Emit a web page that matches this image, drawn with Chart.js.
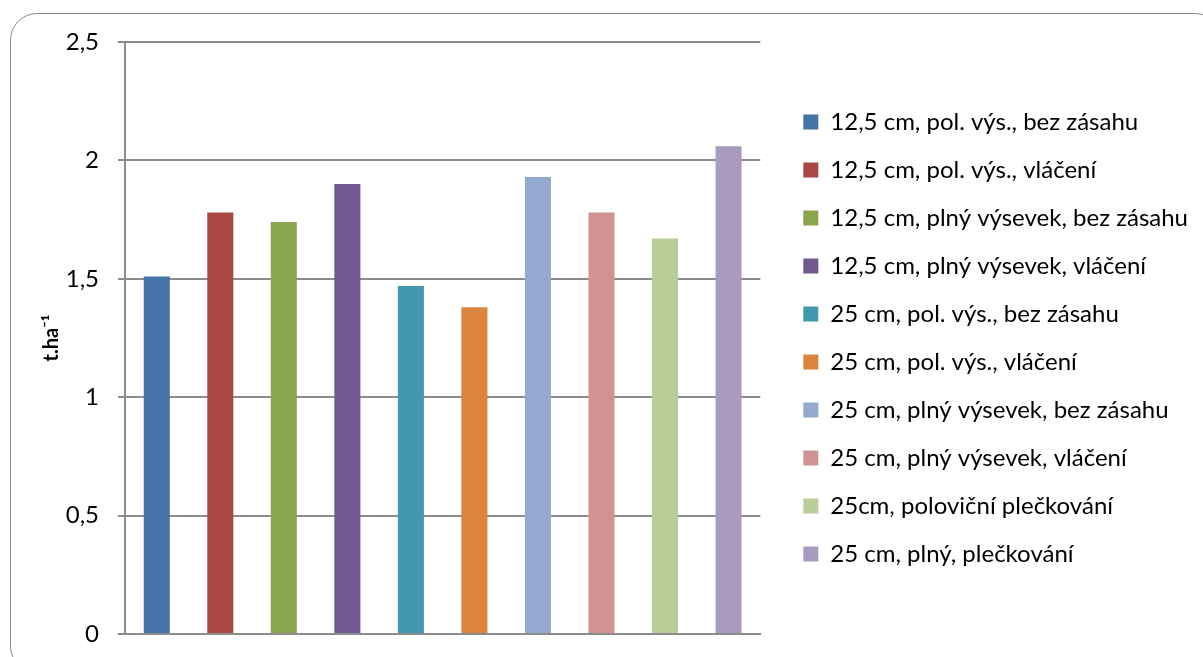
<!DOCTYPE html>
<html>
<head>
<meta charset="utf-8">
<script src="https://cdn.jsdelivr.net/npm/chart.js@4.4.0/dist/chart.umd.min.js"></script>
<style>
  html, body { margin: 0; padding: 0; background: #fff; overflow: hidden; }
  #wrap { position: relative; width: 1203px; height: 657px; }
  #frame {
    position: absolute; left: 10px; top: 13px; width: 1212px; height: 660px;
    border: 1.5px solid #8a8a8a; border-radius: 27px; box-sizing: border-box;
  }
  canvas { position: absolute; left: 0; top: 0; }
</style>
</head>
<body>
<div id="wrap">
  <div id="frame"></div>
  <canvas id="yieldChart" width="1203" height="657"></canvas>
</div>
<script>
// one category, ten variants
const categories = [""];
const seriesNames = [
    "12,5 cm, pol. výs., bez zásahu",
    "12,5 cm, pol. výs., vláčení",
    "12,5 cm, plný výsevek, bez zásahu",
    "12,5 cm, plný výsevek, vláčení",
    "25 cm, pol. výs., bez zásahu",
    "25 cm, pol. výs., vláčení",
    "25 cm, plný výsevek, bez zásahu",
    "25 cm, plný výsevek, vláčení",
    "25cm, poloviční plečkování",
    "25 cm, plný, plečkování"
];
const seriesValues = [1.51, 1.78, 1.74, 1.90, 1.47, 1.38, 1.93, 1.78, 1.67, 2.06];
const seriesColors = [
    "#4572A7", "#AA4643", "#89A54E", "#71588F", "#4198AF",
    "#DB843D", "#93A9CF", "#D19392", "#B9CD96", "#A99BBD"
];
const yTicks = [0, 0.5, 1, 1.5, 2, 2.5];
const yTitle = "t.ha⁻¹";

const gridColor = "#8c8c8c";
const font = "Lato, 'Liberation Sans', sans-serif";

const ctx = document.getElementById("yieldChart").getContext("2d");
new Chart(ctx, {
    type: "bar",
    data: {
        labels: categories,
        datasets: seriesNames.map((name, i) => ({
            label: name,
            data: [seriesValues[i]],
            backgroundColor: seriesColors[i],
            borderWidth: 0,
            categoryPercentage: 1,
            barPercentage: 0.41,
        })),
    },
    options: {
        responsive: false,
        animation: false,
        layout: { padding: { left: 36, top: 42, right: 5, bottom: 23 } },
        plugins: {
            tooltip: { enabled: false },
            legend: {
                display: true,
                position: "right",
                align: "center",
                maxWidth: 500,
                labels: {
                    boxWidth: 15,
                    boxHeight: 15,
                    padding: 24,
                    color: "#000",
                    font: { family: font, size: 24 },
                },
            },
        },
        scales: {
            x: {
                ticks: { display: false },
                grid: { display: false },
                border: { display: true, color: gridColor, width: 2 },
                afterFit: s => { s.height = 0; },
            },
            y: {
                min: yTicks[0],
                max: yTicks[yTicks.length - 1],
                afterBuildTicks: axis => { axis.ticks = yTicks.map(v => ({ value: v })); },
                afterFit: s => {
                    s.width = 89;
                    // the layout padding already leaves room for the end labels
                    s.paddingTop = 0;
                    s.paddingBottom = 0;
                },
                ticks: {
                    color: "#000",
                    padding: 19,
                    font: { family: font, size: 24 },
                    callback: v => String(v).replace(".", ","),
                },
                grid: { color: gridColor, lineWidth: 2, tickLength: 7, drawTicks: true },
                border: { display: true, color: gridColor, width: 2 },
                title: {
                    display: true,
                    text: yTitle,
                    color: "#000",
                    font: { family: font, size: 20, weight: "bold" },
                },
            },
            // spacer between plot and legend
            gap: {
                type: "linear",
                position: "right",
                display: true,
                ticks: { display: false },
                grid: { display: false },
                border: { display: false },
                afterFit: s => { s.width = 19; },
            },
        },
    },
});
</script>
</body>
</html>
